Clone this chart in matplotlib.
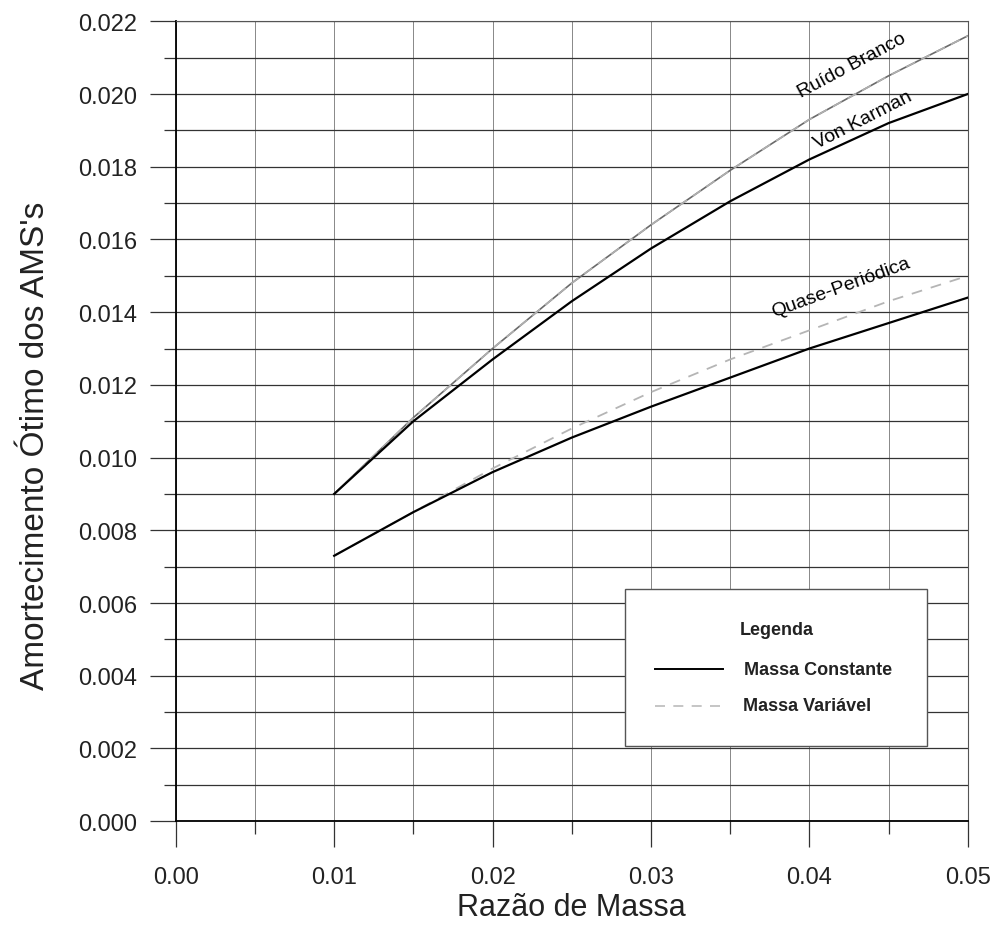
import matplotlib
matplotlib.use('Agg')
import matplotlib.pyplot as plt
from matplotlib.ticker import MultipleLocator, FormatStrFormatter
from matplotlib.patches import Rectangle

plt.rcParams['font.family'] = ['Liberation Sans', 'DejaVu Sans']

# razao de massa e amortecimento otimo
razao = [0.010, 0.015, 0.020, 0.025, 0.030, 0.035, 0.040, 0.045, 0.050]
ruido_branco = [0.0090, 0.0111, 0.0130, 0.0148, 0.0164, 0.0179, 0.0193, 0.0205, 0.0216]
von_karman = [0.0090, 0.0110, 0.0127, 0.0143, 0.01575, 0.01705, 0.0182, 0.0192, 0.0200]
quase_const = [0.0073, 0.0085, 0.0096, 0.01055, 0.0114, 0.0122, 0.0130, 0.0137, 0.0144]
quase_var = [0.0073, 0.0085, 0.0097, 0.0108, 0.0118, 0.0127, 0.0135, 0.0143, 0.0150]

fig = plt.figure(figsize=(9.93, 9.29), dpi=100)
ax = fig.add_axes([0.177, 0.115, 0.7976, 0.861])

ax.plot(razao, ruido_branco, color='#6a6a6a', lw=1.2, zorder=3)
ax.plot(razao, ruido_branco, color='#b0b0b0', lw=1.2, dashes=(6, 4), zorder=3)
ax.plot(razao, von_karman, color='black', lw=1.6, zorder=3)
ax.plot(razao, quase_var, color='#b5b5b5', lw=1.3, dashes=(6, 5), zorder=3)
ax.plot(razao, quase_const, color='black', lw=1.6, zorder=3)

ax.text(0.0427, 0.0208, 'Ruído Branco', rotation=28, ha='center', va='center', fontsize=14)
ax.text(0.0434, 0.0193, 'Von Karman', rotation=27, ha='center', va='center', fontsize=14)
ax.text(0.0420, 0.0147, 'Quase-Periódica', rotation=20, ha='center', va='center', fontsize=14)

ax.set_xlim(0, 0.05)
ax.set_ylim(0, 0.022)
ax.xaxis.set_major_locator(MultipleLocator(0.01))
ax.xaxis.set_minor_locator(MultipleLocator(0.005))
ax.yaxis.set_major_locator(MultipleLocator(0.002))
ax.yaxis.set_minor_locator(MultipleLocator(0.001))
ax.xaxis.set_major_formatter(FormatStrFormatter('%.2f'))
ax.yaxis.set_major_formatter(FormatStrFormatter('%.3f'))

ax.grid(True, which='both', axis='y', color='#333333', lw=0.9)
ax.grid(True, which='both', axis='x', color='#888888', lw=0.7)
ax.set_axisbelow(True)

ax.tick_params(which='major', length=19, width=0.9, color='#333333', labelsize=17, labelcolor='#222222')
ax.tick_params(which='minor', length=9, width=0.9, color='#333333')
ax.tick_params(axis='y', which='major', pad=9)
ax.tick_params(axis='x', which='major', pad=13)

for s in ['top', 'right']:
    ax.spines[s].set_color('#555555')
    ax.spines[s].set_linewidth(0.8)
for s in ['left', 'bottom']:
    ax.spines[s].set_color('black')
    ax.spines[s].set_linewidth(1.3)

ax.set_xlabel('Razão de Massa', fontsize=22, color='#222222')
ax.xaxis.set_label_coords(0.5, -0.089)
ax.set_ylabel("Amortecimento Ótimo dos AMS's", fontsize=24, color='#222222')
ax.yaxis.set_label_coords(-0.158, 0.471)

# legenda desenhada dentro da area do grafico
box = Rectangle((0.567, 0.094), 0.381, 0.196, transform=ax.transAxes,
                facecolor='white', edgecolor='#555555', lw=1.0, zorder=5)
ax.add_patch(box)
ax.text(0.759, 0.24, 'Legenda', transform=ax.transAxes, ha='center', va='center',
        fontsize=13, fontweight='bold', color='#222222', zorder=6)
ax.plot([0.605, 0.691], [0.19, 0.19], transform=ax.transAxes, color='black', lw=1.4, zorder=6)
ax.text(0.718, 0.19, 'Massa Constante', transform=ax.transAxes, ha='left', va='center',
        fontsize=13, fontweight='bold', color='#222222', zorder=6)
ax.plot([0.605, 0.691], [0.144, 0.144], transform=ax.transAxes, color='#bbbbbb', lw=1.2,
        dashes=(6, 5), zorder=6)
ax.text(0.716, 0.144, 'Massa Variável', transform=ax.transAxes, ha='left', va='center',
        fontsize=13, fontweight='bold', color='#222222', zorder=6)

fig.savefig('out.png', dpi=100)
